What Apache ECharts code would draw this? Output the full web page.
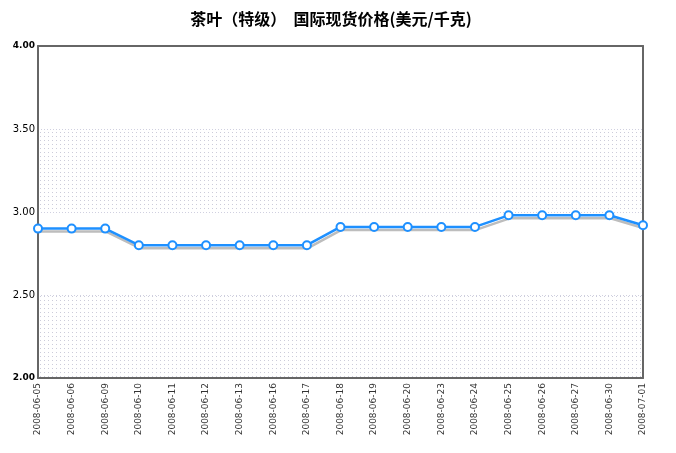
<!DOCTYPE html>
<html>
<head>
<meta charset="utf-8">
<script src="https://cdn.jsdelivr.net/npm/echarts@6/dist/echarts.min.js"></script>
<style>html,body{margin:0;padding:0;background:#fff}#c{width:676px;height:453px}</style>
</head>
<body>
<div id="c"></div>
<script>
var titleText = '茶叶（特级）  国际现货价格(美元/千克)';
var categories = ['2008-06-05','2008-06-06','2008-06-09','2008-06-10','2008-06-11','2008-06-12','2008-06-13','2008-06-16','2008-06-17','2008-06-18','2008-06-19','2008-06-20','2008-06-23','2008-06-24','2008-06-25','2008-06-26','2008-06-27','2008-06-30','2008-07-01'];
var prices = [2.90,2.90,2.90,2.80,2.80,2.80,2.80,2.80,2.80,2.91,2.91,2.91,2.91,2.91,2.98,2.98,2.98,2.98,2.92];
var yMin = 2, yMax = 4, yStep = 0.5;

var pc = document.createElement('canvas');
pc.width = 4; pc.height = 4;
var pctx = pc.getContext('2d');
pctx.fillStyle = '#ffffff'; pctx.fillRect(0,0,4,4);
pctx.fillStyle = '#ccccda'; pctx.fillRect(0,0,1,1);
var pattern = {image: pc, repeat: 'repeat'};

var hidden = {axisLine: {show: true, lineStyle: {color: '#666', width: 2}}, axisTick: {show: false}, axisLabel: {show: false}, splitLine: {show: false}, splitArea: {show: false}};

var chart = echarts.init(document.getElementById('c'), null, {renderer: 'canvas'});
chart.setOption({
  animation: false,
  backgroundColor: '#ffffff',
  title: {
    text: titleText, left: 326, textAlign: 'center', top: 6,
    textStyle: {fontFamily: 'Noto Sans CJK SC', fontSize: 16, fontWeight: 'bold', color: '#000'}
  },
  grid: {left: 38, right: 33, top: 46, bottom: 75},
  xAxis: [{
    type: 'category', data: categories, boundaryGap: false,
    axisLine: {show: true, onZero: false, lineStyle: {color: '#666', width: 2}},
    axisTick: {show: false},
    axisLabel: {rotate: 90, interval: 0, margin: 5, fontFamily: 'DejaVu Sans', fontSize: 9, color: '#333'},
    splitLine: {show: false}
  }, Object.assign({type: 'category', data: categories, boundaryGap: false, position: 'top'}, hidden)],
  yAxis: [{
    type: 'value', min: yMin, max: yMax, interval: yStep,
    axisLine: {show: true, lineStyle: {color: '#666', width: 2}},
    axisTick: {show: false},
    axisLabel: {
      margin: 3,
      formatter: function(v){ var s = v.toFixed(2); return (v === yMin || v === yMax) ? '{b|' + s + '}' : '{n|' + s + '}'; },
      rich: {
        b: {fontFamily: 'DejaVu Sans', fontSize: 9, fontWeight: 'bold', color: '#000'},
        n: {fontFamily: 'DejaVu Sans', fontSize: 10, color: '#000'}
      }
    },
    splitLine: {show: true, lineStyle: {color: '#d0d0e0', type: [1, 2], width: 1}},
    splitArea: {show: true, areaStyle: {color: [pattern, 'rgba(255,255,255,0)']}}
  }, Object.assign({type: 'value', min: yMin, max: yMax, interval: yStep, position: 'right'}, hidden)],
  series: [{
    type: 'line', data: prices,
    symbol: 'circle', symbolSize: 8, showAllSymbol: true, z: 5,
    lineStyle: {color: '#1e90ff', width: 2.5, shadowColor: '#bdbdbd', shadowBlur: 0, shadowOffsetY: 3, shadowOffsetX: 1},
    itemStyle: {color: '#ffffff', borderColor: '#1e90ff', borderWidth: 2}
  }]
});
</script>
</body>
</html>
